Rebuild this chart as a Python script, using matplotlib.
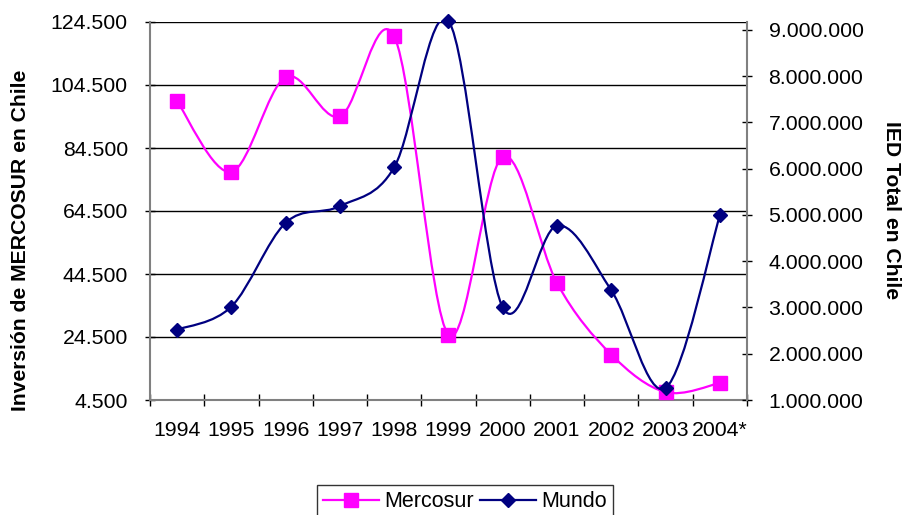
import numpy as np
import matplotlib
matplotlib.use("Agg")
import matplotlib.pyplot as plt
from matplotlib.path import Path
from matplotlib.patches import PathPatch
from matplotlib.lines import Line2D

plt.rcParams['font.family'] = ['Liberation Sans', 'DejaVu Sans']

years = ['1994', '1995', '1996', '1997', '1998', '1999', '2000', '2001', '2002', '2003', '2004*']
mercosur = [99300, 76900, 107000, 94500, 119900, 25200, 81800, 41600, 18900, 7000, 9900]
mundo = [2520000, 3020000, 4830000, 5190000, 6030000, 9190000, 3000000, 4770000, 3370000, 1260000, 4990000]

left_ticks = np.arange(4500, 124501, 20000)
right_ticks = np.arange(1000000, 9000001, 1000000)


def fmt(v):
    return f"{int(v):,}".replace(',', '.')


def smooth_path(xs, ys):
    # Excel-like smoothed line: cubic bezier through the points
    pts = np.column_stack([xs, ys]).astype(float)
    n = len(pts)
    verts = [pts[0]]
    codes = [Path.MOVETO]
    for i in range(n - 1):
        p0 = pts[i - 1] if i > 0 else pts[i]
        p3 = pts[i + 2] if i + 2 < n else pts[i + 1]
        c1 = pts[i] + (pts[i + 1] - p0) / 6
        c2 = pts[i + 1] - (p3 - pts[i]) / 6
        verts += [c1, c2, pts[i + 1]]
        codes += [Path.CURVE4] * 3
    return Path(verts, codes)


W, H = 903, 515
fig = plt.figure(figsize=(W / 100, H / 100), dpi=100)
ax = fig.add_axes([150 / W, 1 - 400 / H, 597 / W, 378 / H])
ax2 = ax.twinx()

x = np.arange(len(years))
pink = '#FF00FF'
navy = '#000080'

ax.add_patch(PathPatch(smooth_path(x, mercosur), fill=False, edgecolor=pink, lw=1.6, zorder=3))
ax.plot(x, mercosur, ls='none', marker='s', ms=10.5, color=pink, zorder=4, clip_on=False)

ax2.add_patch(PathPatch(smooth_path(x, mundo), fill=False, edgecolor=navy, lw=1.6, zorder=3))
ax2.plot(x, mundo, ls='none', marker='D', ms=7.6, color=navy, zorder=4, clip_on=False)

ax.set_xlim(-0.5, len(years) - 0.5)
ax.set_ylim(4500, 124500)
ax2.set_ylim(1000000, 9170000)

ax.set_yticks(left_ticks)
ax.set_yticklabels([fmt(v) for v in left_ticks])
ax2.set_yticks(right_ticks)
ax2.set_yticklabels([fmt(v) for v in right_ticks])

ax.set_xticks(np.arange(-0.5, len(years), 1.0))
ax.set_xticklabels([])
ax.set_xticks(x, minor=True)
ax.set_xticklabels(years, minor=True)

ax.yaxis.grid(True, color='black', lw=1.0)
ax.set_axisbelow(True)

for a in (ax, ax2):
    for s in a.spines.values():
        s.set_visible(False)
ax.spines['left'].set_visible(True)
ax.spines['bottom'].set_visible(True)
ax2.spines['right'].set_visible(True)
for s in (ax.spines['left'], ax.spines['bottom'], ax2.spines['right']):
    s.set_color('#808080')
    s.set_linewidth(1.5)

ax.tick_params(axis='y', direction='inout', length=7, width=1, color='black', labelsize=15.3, pad=12.5)
ax.tick_params(axis='x', which='major', direction='inout', length=8, width=1, color='black')
ax.tick_params(axis='x', which='minor', length=0, labelsize=15.3, pad=15)
ax2.tick_params(axis='y', direction='inout', length=7, width=1, color='black', labelsize=15.3, pad=12)

fig.text(21 / W, 1 - 240 / H, 'Inversión de MERCOSUR en Chile', rotation=90,
         ha='center', va='center', fontsize=15.2, fontweight='bold')
fig.text(892 / W, 1 - 210 / H, 'IED Total en Chile', rotation=270,
         ha='center', va='center', fontsize=15.2, fontweight='bold')

handles = [
    Line2D([], [], color=pink, lw=1.6, marker='s', ms=10.5),
    Line2D([], [], color=navy, lw=1.6, marker='D', ms=7.6),
]
leg = fig.legend(handles, ['Mercosur', 'Mundo'], loc='upper center',
                 bbox_to_anchor=(465 / W, 1 - 485 / H), ncol=2, frameon=True,
                 fancybox=False, edgecolor='black', fontsize=15.5, numpoints=1,
                 handlelength=2.6, handletextpad=0.25, columnspacing=0.25,
                 borderaxespad=0, borderpad=0.3)
leg.get_frame().set_linewidth(1.0)

fig.savefig('out.png', dpi=100)
